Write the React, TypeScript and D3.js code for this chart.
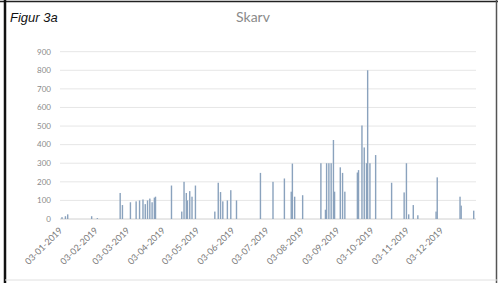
import React from "react";
import * as d3 from "d3";

const dates: string[] = [
  "2019-01-03","2019-01-06","2019-01-08","2019-01-29","2019-02-03",
  "2019-02-23","2019-02-25","2019-03-04","2019-03-09","2019-03-12","2019-03-15","2019-03-17","2019-03-19","2019-03-21","2019-03-23","2019-03-25","2019-03-26",
  "2019-04-09","2019-04-18","2019-04-20","2019-04-22","2019-04-23","2019-04-25","2019-04-27","2019-04-30",
  "2019-05-17","2019-05-20","2019-05-22","2019-05-24","2019-05-28","2019-05-31","2019-06-05",
  "2019-06-26","2019-07-07","2019-07-17","2019-07-23","2019-07-24","2019-07-26","2019-08-02",
  "2019-08-18","2019-08-22","2019-08-23","2019-08-25","2019-08-27","2019-08-29","2019-08-30",
  "2019-09-04","2019-09-06","2019-09-08","2019-09-19","2019-09-20","2019-09-23","2019-09-25","2019-09-27","2019-09-28","2019-09-30",
  "2019-10-05","2019-10-19","2019-10-30","2019-11-01","2019-11-03","2019-11-07","2019-11-11",
  "2019-11-27","2019-11-28","2019-12-18","2019-12-19","2019-12-30"
];
const counts: number[] = [
  10,15,25,15,5,
  140,75,90,95,100,105,80,100,110,90,115,120,
  180,40,200,140,100,150,120,180,
  40,195,145,95,100,155,100,
  248,200,218,147,298,120,128,
  300,50,300,300,300,425,147,
  278,248,147,250,263,503,385,300,800,300,
  344,195,143,300,25,75,20,
  40,224,120,72,45
];
const yTicks: number[] = [0,100,200,300,400,500,600,700,800,900];
const xTickLabels: string[] = [
  "03-01-2019","03-02-2019","03-03-2019","03-04-2019","03-05-2019","03-06-2019",
  "03-07-2019","03-08-2019","03-09-2019","03-10-2019","03-11-2019","03-12-2019"
];

const parseIso = d3.timeParse("%Y-%m-%d");
const parseLabel = d3.timeParse("%d-%m-%Y");

export default function App() {
  const W = 498, H = 283;
  const x = d3.scaleTime()
    .domain([parseIso("2019-01-03") as Date, parseIso("2020-01-01") as Date])
    .range([62, 476]);
  const y = d3.scaleLinear().domain([0, 900]).range([219, 51.7]);
  const font = "Lato, 'Liberation Sans', sans-serif";
  return (
    <svg width={W} height={H} style={{ position: "absolute", left: 0, top: 0 }}>
      <rect x={0} y={0} width={W} height={H} fill="#ffffff" />
      {yTicks.map((t) => (
        <g key={t}>
          <line x1={60} x2={476} y1={y(t)} y2={y(t)} stroke={t === 0 ? "#d0d0d0" : "#e6e6e6"} strokeWidth={1} />
          <text x={51} y={y(t)} dy="0.35em" textAnchor="end" fontSize={8} fill="#8a8a8a" fontFamily={font}>{t}</text>
        </g>
      ))}
      {dates.map((d, i) => {
        const cx = x(parseIso(d) as Date);
        return (
          <rect key={d} x={cx - 0.7} width={1.4} y={y(counts[i])} height={y(0) - y(counts[i])} fill="#8aa2bd" />
        );
      })}
      {xTickLabels.map((l) => {
        const tx = x(parseLabel(l) as Date);
        return (
          <text key={l} transform={`translate(${tx + 1},${y(0) + 12}) rotate(-45)`} textAnchor="end" fontSize={9} fill="#7a7a7a" fontFamily={font}>{l}</text>
        );
      })}
      <text x={W / 2 + 4} y={22} textAnchor="middle" fontSize={14} fill="#8a8a8a" fontFamily={font}>Skarv</text>
      <text x={10} y={22} fontSize={13} fontStyle="italic" fill="#111" fontFamily="'Liberation Sans', Arial, sans-serif">Figur 3a</text>
      <line x1={0} x2={W} y1={1.5} y2={1.5} stroke="#222" strokeWidth={1.5} />
      <line x1={5} x2={5} y1={0} y2={H} stroke="#111" strokeWidth={2.5} />
      <line x1={496.5} x2={496.5} y1={0} y2={H} stroke="#555" strokeWidth={1.5} />
      <line x1={5} x2={W} y1={280} y2={280} stroke="#e0e0e0" strokeWidth={1} />
    </svg>
  );
}
